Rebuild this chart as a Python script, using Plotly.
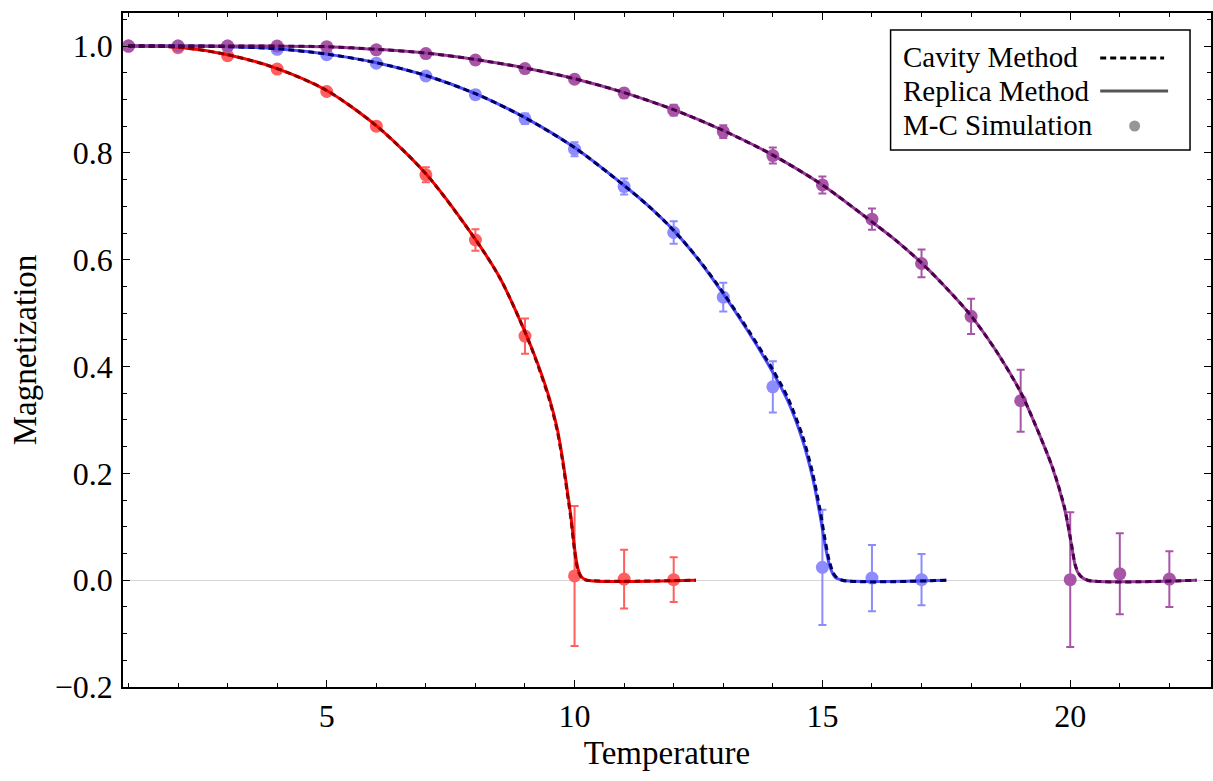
import plotly.graph_objects as go

# ---------------- data ----------------
# Monte-Carlo points
red_T = [1, 2, 3, 4, 5, 6, 7, 8, 9, 10, 11, 12]
red_m = [1.0, 0.997, 0.982, 0.957, 0.915, 0.850, 0.759, 0.637, 0.457, 0.008, 0.002, 0.001]
red_err = [0.002, 0.002, 0.003, 0.004, 0.006, 0.008, 0.014, 0.020, 0.033, 0.131, 0.055, 0.042]

blue_T = [1, 2, 3, 4, 5, 6, 7, 8, 9, 10, 11, 12, 13, 14, 15, 16, 17]
blue_m = [1.0, 1.0, 1.0, 0.994, 0.984, 0.968, 0.944, 0.909, 0.864, 0.807, 0.737, 0.651,
          0.530, 0.362, 0.024, 0.004, 0.001]
blue_err = [0.001, 0.001, 0.002, 0.003, 0.004, 0.005, 0.006, 0.008, 0.010, 0.013, 0.015,
            0.021, 0.027, 0.048, 0.108, 0.062, 0.048]

purple_T = [1, 2, 3, 4, 5, 6, 7, 8, 9, 10, 11, 12, 13, 14, 15, 16, 17, 18, 19, 20, 21, 22]
purple_m = [1.0, 1.0, 1.0, 1.0, 0.999, 0.993, 0.986, 0.974, 0.958, 0.938, 0.912, 0.880,
            0.840, 0.795, 0.740, 0.676, 0.593, 0.494, 0.336, 0.001, 0.012, 0.002]
purple_err = [0.001, 0.001, 0.001, 0.002, 0.002, 0.003, 0.004, 0.005, 0.006, 0.007, 0.008,
              0.010, 0.012, 0.015, 0.016, 0.020, 0.026, 0.033, 0.058, 0.126, 0.076, 0.052]

# Theory curves (replica = solid, cavity = dashed)
red_curve_T = [1, 2, 3, 4, 5, 6, 7, 8, 8.5, 9, 9.25, 9.5, 9.65, 9.75, 9.85, 9.93, 10.0,
               10.07, 10.15, 10.25, 12.45]
red_replica = [1.0, 0.998, 0.984, 0.958, 0.917, 0.851, 0.761, 0.638, 0.565, 0.465, 0.407,
               0.338, 0.284, 0.232, 0.170, 0.117, 0.060, 0.021, 0.005, 0.0, 0.0]
red_cavity = [1.0, 0.998, 0.984, 0.958, 0.917, 0.851, 0.761, 0.638, 0.565, 0.465, 0.405,
              0.335, 0.280, 0.228, 0.165, 0.112, 0.055, 0.018, 0.004, 0.0, 0.0]

blue_curve_T = [1, 2, 3, 4, 5, 6, 7, 8, 9, 10, 11, 11.5, 12, 12.5, 13, 13.5, 14, 14.3, 14.6,
                14.8, 14.95, 15.05, 15.15, 15.25, 15.4, 17.5]
blue_replica = [1.0, 1.0, 0.999, 0.995, 0.985, 0.969, 0.945, 0.911, 0.866, 0.810, 0.739,
                0.700, 0.655, 0.600, 0.536, 0.466, 0.389, 0.336, 0.262, 0.193, 0.123, 0.068,
                0.026, 0.006, 0.0, 0.0]
blue_cavity = [1.0, 1.0, 0.999, 0.995, 0.985, 0.969, 0.945, 0.911, 0.866, 0.810, 0.739,
               0.700, 0.655, 0.601, 0.538, 0.469, 0.394, 0.342, 0.270, 0.202, 0.133, 0.078,
               0.032, 0.009, 0.0, 0.0]

purple_curve_T = [1, 2, 3, 4, 5, 6, 7, 8, 9, 10, 11, 12, 13, 14, 15, 16, 16.5, 17, 17.5, 18,
                  18.5, 19, 19.3, 19.64, 19.88, 20.01, 20.11, 20.2, 20.35, 22.55]
purple_replica = [1.0, 1.0, 1.0, 1.0, 0.999, 0.994, 0.987, 0.975, 0.959, 0.939, 0.913, 0.881,
                  0.842, 0.796, 0.740, 0.671, 0.635, 0.594, 0.547, 0.495, 0.430, 0.352, 0.29,
                  0.211, 0.136, 0.074, 0.024, 0.008, 0.0, 0.0]
purple_cavity = [1.0, 1.0, 1.0, 1.0, 0.999, 0.994, 0.987, 0.975, 0.959, 0.939, 0.913, 0.881,
                 0.842, 0.796, 0.740, 0.671, 0.635, 0.594, 0.547, 0.495, 0.430, 0.352, 0.29,
                 0.212, 0.138, 0.076, 0.026, 0.009, 0.0, 0.0]

y_ticks = [-0.2, 0.0, 0.2, 0.4, 0.6, 0.8, 1.0]
x_ticks = [5, 10, 15, 20]
legend_labels = ["Cavity Method", "Replica Method", "M-C Simulation"]

# ---------------- styles ----------------
FONT = "Liberation Serif"
series = [
    dict(T=red_T, m=red_m, e=red_err, cT=red_curve_T, rep=red_replica, cav=red_cavity,
         dot="rgb(255,95,95)", solid="rgb(255,0,0)", dash="rgb(140,0,0)"),
    dict(T=blue_T, m=blue_m, e=blue_err, cT=blue_curve_T, rep=blue_replica, cav=blue_cavity,
         dot="rgb(140,140,255)", solid="rgb(75,75,255)", dash="rgb(0,0,95)"),
    dict(T=purple_T, m=purple_m, e=purple_err, cT=purple_curve_T, rep=purple_replica,
         cav=purple_cavity, dot="rgb(168,85,168)", solid="rgb(150,60,150)", dash="rgb(75,0,75)"),
]

fig = go.Figure()

for s in series:
    fig.add_trace(go.Scatter(
        x=s["T"], y=s["m"], mode="markers",
        marker=dict(size=13, color=s["dot"]),
        error_y=dict(type="data", array=s["e"], visible=True, color=s["dot"],
                     thickness=2, width=4),
        showlegend=False, hoverinfo="skip"))
for s in series:
    fig.add_trace(go.Scatter(
        x=s["cT"], y=s["rep"], mode="lines",
        line=dict(color=s["solid"], width=3, shape="spline", smoothing=0.8),
        showlegend=False, hoverinfo="skip"))
for s in series:
    fig.add_trace(go.Scatter(
        x=s["cT"], y=s["cav"], mode="lines",
        line=dict(color=s["dash"], width=3, dash="6px,4px", shape="spline", smoothing=0.8),
        showlegend=False, hoverinfo="skip"))

W, H = 1213, 781
ML, MR, MT, MB = 123, 0, 13, 94

axis_common = dict(
    showline=True, linecolor="black", linewidth=1.5, mirror="ticks",
    ticks="inside", tickcolor="black", tickwidth=1, ticklen=7,
    showgrid=False, tickfont=dict(family=FONT, size=32, color="black"),
)

fig.update_xaxes(
    range=[0.89, 22.84], tickvals=x_ticks, ticktext=[str(v) for v in x_ticks],
    minor=dict(dtick=1, tick0=0, ticks="inside", ticklen=4, tickcolor="black", showgrid=False),
    zeroline=False,
    title=dict(text="Temperature", font=dict(family=FONT, size=33, color="black"), standoff=8),
    ticklabelstandoff=0,
    **axis_common)
fig.update_yaxes(
    range=[-0.2, 1.062], tickvals=y_ticks, ticktext=[f"{v:.1f}".replace("-", "\u2212") for v in y_ticks],
    minor=dict(dtick=0.05, tick0=0, ticks="inside", ticklen=4, tickcolor="black", showgrid=False),
    zeroline=True, zerolinecolor="rgb(215,215,215)", zerolinewidth=1,
    title=dict(text="Magnetization", font=dict(family=FONT, size=33, color="black"), standoff=8),
    ticklabelstandoff=2,
    **axis_common)

# ---------------- legend drawn as layout decorations ----------------
pw = W - ML - MR
ph = H - MT - MB
def px(xp):
    return (xp - ML) / pw
def py(yp):
    return (H - MB - yp) / ph

shapes = [
    dict(type="rect", xref="paper", yref="paper", x0=px(892), x1=px(1192), y0=py(150), y1=py(30),
         line=dict(color="black", width=1.5), fillcolor="white", layer="above"),
    dict(type="line", xref="paper", yref="paper", x0=px(1102), x1=px(1166), y0=py(58), y1=py(58),
         line=dict(color="black", width=3, dash="6px,4px"), layer="above"),
    dict(type="line", xref="paper", yref="paper", x0=px(1102), x1=px(1170), y0=py(91), y1=py(91),
         line=dict(color="rgb(85,85,85)", width=3), layer="above"),
    dict(type="circle", xref="paper", yref="paper", x0=px(1131), x1=px(1142), y0=py(131.5), y1=py(120.5),
         line=dict(width=0), fillcolor="rgb(150,150,150)", layer="above"),
]
annotations = []
for lab, yc in zip(legend_labels, [57, 91, 125]):
    annotations.append(dict(
        text=lab, xref="paper", yref="paper", x=px(902), y=py(yc), xanchor="left", yanchor="middle",
        showarrow=False, font=dict(family=FONT, size=29, color="black")))

fig.update_layout(
    width=W, height=H, margin=dict(l=ML, r=MR, t=MT, b=MB, pad=0),
    plot_bgcolor="white", paper_bgcolor="white",
    shapes=shapes, annotations=annotations, showlegend=False,
)

fig.write_html("out.html", config={"displayModeBar": False},
               post_script="document.body.style.margin='0';")
